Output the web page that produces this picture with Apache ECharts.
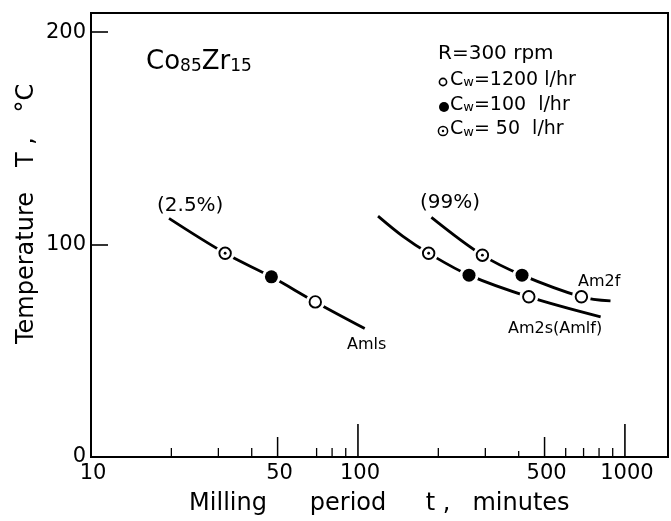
<!DOCTYPE html>
<html>
<head>
<meta charset="utf-8">
<script src="https://cdn.jsdelivr.net/npm/echarts@6/dist/echarts.min.js"></script>
<style>
html,body{margin:0;padding:0;background:#fff;}
#chart{width:671px;height:521px;}
</style>
</head>
<body>
<div id="chart"></div>
<script>
// ---- data (minutes, °C) ----
const amlsCurve = [[19.6,112.3],[31.8,95.9],[47.4,84.8],[69.2,73.0],[106,60.5]];
const am2sCurve = [[118.9,113.4],[147,104.0],[184,95.9],[260.6,85.6],[436.5,75.4],[811,66.0]];
const am2fCurve = [[188.4,112.8],[292.5,95.0],[411.7,85.6],[687,75.4],[883,73.5]];

const cw1200Points = [[69.2,73.0],[436.5,75.4],[687,75.4]];   // open circles
const cw100Points  = [[47.4,84.8],[260.6,85.6],[411.7,85.6]]; // filled circles
const cw50Points   = [[31.8,95.9],[184,95.9],[292.5,95.0]];   // dotted circles

const xTickLabels = [10, 50, 100, 500, 1000];
const xMajorTicks = [100, 1000];
const xMidTicks = [50, 500];
const xMinorTicks = [20, 30, 40, 70, 80, 90, 200, 300, 600, 700, 800, 900];
const xShortTicks = [400];
const yTickLabels = [0, 100, 200];

const FONT = 'DejaVu Sans';
const allPoints = cw1200Points.concat(cw100Points, cw50Points);

function tickSeries(values, len, width) {
  return {
    type: 'custom', coordinateSystem: 'cartesian2d', silent: true, clip: false,
    data: values.map(v => [v, 0]), encode: {x: 0, y: 1},
    renderItem: function (params, api) {
      const p = api.coord([api.value(0), 0]);
      return {type: 'line', shape: {x1: p[0], y1: p[1], x2: p[0], y2: p[1] - len},
        style: {stroke: '#000', lineWidth: width}};
    }
  };
}

const lineStyle = {color: '#000', width: 2.8};
function curve(data) {
  return {type: 'line', data: data, smooth: 0.35, symbol: 'none', lineStyle: lineStyle, silent: true, z: 2};
}
function txt(x, y, text, size, extra) {
  return Object.assign({type: 'text', x: x, y: y,
    style: {text: text, fontSize: size, fontFamily: FONT, fill: '#000', align: 'left', verticalAlign: 'middle'}}, extra || {});
}
const subW = {w: {fontSize: 13, fontFamily: FONT, fill: '#000', verticalAlign: 'bottom', lineHeight: 7}};

const chart = echarts.init(document.getElementById('chart'), null, {renderer: 'canvas'});
const g = [
  // axis titles
  txt(228, 504, 'Milling', 24), txt(348, 504, 'period', 24), txt(438, 504, 't ,', 24), txt(521, 504, 'minutes', 24),
  txt(27, 268, 'Temperature', 24, {rotation: Math.PI / 2}),
  txt(27, 152, 'T ,', 24, {rotation: Math.PI / 2}),
  txt(27, 98, '°C', 24, {rotation: Math.PI / 2}),
  // composition
  {type: 'text', x: 146, y: 62, style: {text: 'Co{s|85}Zr{s|15}', fontSize: 26, fontFamily: FONT, fill: '#000', align: 'left', verticalAlign: 'middle',
    rich: {s: {fontSize: 17, fontFamily: FONT, fill: '#000', verticalAlign: 'bottom', lineHeight: 10}}}},
  // legend block
  txt(438, 54, 'R=300 rpm', 20),
  {type: 'circle', shape: {cx: 443, cy: 82, r: 3.6}, style: {fill: '#fff', stroke: '#000', lineWidth: 1.6}},
  txt(450, 80, 'C{w|w}=1200 l/hr', 19, {style: {text: 'C{w|w}=1200 l/hr', fontSize: 19, fontFamily: FONT, fill: '#000', align: 'left', verticalAlign: 'middle', rich: subW}}),
  {type: 'circle', shape: {cx: 444, cy: 107, r: 5}, style: {fill: '#000'}},
  txt(450, 105, '', 19, {style: {text: 'C{w|w}=100  l/hr', fontSize: 19, fontFamily: FONT, fill: '#000', align: 'left', verticalAlign: 'middle', rich: subW}}),
  {type: 'circle', shape: {cx: 443, cy: 131, r: 4.6}, style: {fill: '#fff', stroke: '#000', lineWidth: 1.5}},
  {type: 'circle', shape: {cx: 443, cy: 131, r: 1.2}, style: {fill: '#000'}},
  txt(450, 129.5, '', 19, {style: {text: 'C{w|w}= 50  l/hr', fontSize: 19, fontFamily: FONT, fill: '#000', align: 'left', verticalAlign: 'middle', rich: subW}}),
  // curve annotations
  txt(157, 206, '(2.5%)', 20),
  txt(420, 203, '(99%)', 20),
  txt(347, 345, 'Amls', 16),
  txt(578, 282, 'Am2f', 16),
  txt(508, 329, 'Am2s(Amlf)', 16)
];
g.forEach(function (e) { if (e.rotation) { e.style.align = 'center'; } });
[0, 1, 2, 3].forEach(function (i) { g[i].style.align = 'center'; });

chart.setOption({
  animation: false,
  backgroundColor: '#fff',
  grid: {left: 91, top: 13, right: 3, bottom: 64, show: true, borderColor: '#000', borderWidth: 2, backgroundColor: 'transparent'},
  xAxis: {
    type: 'log', logBase: 10, min: 10, max: 1450,
    axisLine: {show: true, lineStyle: {color: '#000', width: 2}},
    axisTick: {show: false}, axisLabel: {show: false}, splitLine: {show: false}, minorTick: {show: false}
  },
  yAxis: {
    type: 'value', min: 0, max: 209, interval: 100,
    axisLine: {show: true, lineStyle: {color: '#000', width: 2}},
    axisTick: {show: true, inside: true, length: 17, lineStyle: {color: '#000', width: 1.6}},
    axisLabel: {show: true, fontSize: 21, fontFamily: FONT, color: '#000', margin: 5,
      formatter: function (v) { return yTickLabels.indexOf(v) >= 0 ? String(v) : ''; }},
    splitLine: {show: false}
  },
  series: [
    curve(amlsCurve), curve(am2sCurve), curve(am2fCurve),
    {type: 'scatter', data: allPoints, symbol: 'circle', symbolSize: 19, itemStyle: {color: '#fff', opacity: 1}, silent: true, z: 3},
    {type: 'scatter', data: cw1200Points, symbol: 'circle', symbolSize: 11.5,
      itemStyle: {color: '#fff', borderColor: '#000', borderWidth: 1.9, opacity: 1}, silent: true, z: 4},
    {type: 'scatter', data: cw100Points, symbol: 'circle', symbolSize: 13,
      itemStyle: {color: '#000', opacity: 1}, silent: true, z: 4},
    {type: 'scatter', data: cw50Points, symbol: 'circle', symbolSize: 11.5,
      itemStyle: {color: '#fff', borderColor: '#000', borderWidth: 1.9, opacity: 1}, silent: true, z: 4},
    {type: 'scatter', data: cw50Points, symbol: 'circle', symbolSize: 2.8,
      itemStyle: {color: '#000', opacity: 1}, silent: true, z: 5},
    tickSeries(xMajorTicks, 33, 1.6),
    tickSeries(xMidTicks, 20, 1.5),
    tickSeries(xMinorTicks, 9, 1.3),
    tickSeries(xShortTicks, 6, 1.3),
    {
      type: 'custom', coordinateSystem: 'cartesian2d', silent: true, clip: false,
      data: xTickLabels.map(v => [v, 0]), encode: {x: 0, y: 1},
      renderItem: function (params, api) {
        const v = api.value(0);
        const p = api.coord([v, 0]);
        return {type: 'text', x: p[0] + 2, y: p[1] + 17,
          style: {text: String(v), fontSize: 21, fontFamily: FONT, fill: '#000', align: 'center', verticalAlign: 'middle'}};
      }
    }
  ],
  graphic: g
});
</script>
</body>
</html>
